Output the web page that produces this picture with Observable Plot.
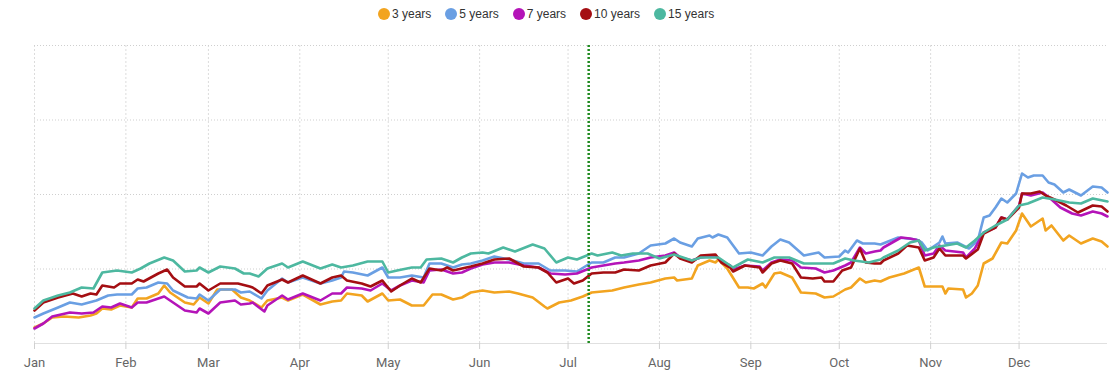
<!DOCTYPE html>
<html>
<head>
<meta charset="utf-8">
<script src="https://cdn.jsdelivr.net/npm/d3@7"></script>
<script src="https://cdn.jsdelivr.net/npm/@observablehq/plot@0.6"></script>
<style>
  html, body { margin: 0; padding: 0; background: #fff; }
  #wrap { position: relative; width: 1116px; height: 379px; overflow: hidden; }
  #legend { position: absolute; left: 378px; top: 7px; display: flex; gap: 14px; font: 12px "Liberation Sans", Arial, sans-serif; color: #333; }
  .item { display: flex; align-items: center; gap: 2px; height: 14px; }
  .dot { width: 12px; height: 12px; border-radius: 50%; display: inline-block; }
  #chart { position: absolute; left: 0; top: 28px; }
</style>
</head>
<body>
<div id="wrap">
  <div id="legend"></div>
  <div id="chart"></div>
</div>
<script>
// Series names and colours
const seriesNames = ["3 years", "5 years", "7 years", "10 years", "15 years"];
const seriesColors = ["#f2a420", "#6a9fe3", "#b414b8", "#a40e12", "#4db8a0"];
const monthLabels = ["Jan","Feb","Mar","Apr","May","Jun","Jul","Aug","Sep","Oct","Nov","Dec"];
const year = 2023;
const markerDay = 188; // dotted green vertical line (day of year, 0 = Jan 1)

// [day of year (0 = Jan 1), value] pairs
const y3 = [[0,16],[3,20],[6,26],[10,27],[15,26],[19,28],[21,30],[23,35],[26,34],[29,38],[33,36],[35,45],[38,45],[42,50],[44,58],[46,51],[51,41],[54,39],[56,46],[59,40],[62,54],[67,54],[70,46],[73,43],[77,36],[79,43],[84,46],[86,43],[91,49],[97,39],[101,42],[104,43],[106,50],[111,48],[113,42],[118,50],[120,43],[124,44],[128,38],[132,38],[135,49],[138,49],[142,44],[145,46],[148,51],[152,53],[156,51],[161,52],[164,50],[169,46],[173,37],[174,35],[178,41],[182,43],[186,47],[189,51],[196,53],[200,56],[205,59],[209,61],[214,65],[217,66],[218,63],[223,65],[225,78],[229,83],[231,81],[232,84],[235,75],[239,56],[242,56],[244,55],[247,60],[248,56],[251,70],[253,71],[257,66],[260,51],[265,50],[268,46],[271,47],[275,54],[277,56],[280,65],[282,61],[285,63],[287,62],[290,66],[295,70],[300,76],[302,57],[308,57],[309,50],[310,55],[315,54],[316,46],[318,50],[320,58],[322,80],[325,85],[328,101],[330,100],[333,113],[335,130],[338,117],[342,125],[343,113],[345,118],[349,103],[351,108],[355,100],[359,105],[362,102],[364,97]];
const y5 = [[0,26],[3,30],[8,36],[12,41],[16,39],[21,43],[25,48],[28,49],[33,49],[35,55],[38,56],[42,61],[45,60],[47,53],[52,46],[55,45],[56,49],[59,43],[63,54],[68,54],[70,51],[73,52],[77,45],[79,53],[84,65],[86,61],[91,66],[97,60],[101,63],[104,66],[105,72],[108,71],[113,68],[118,76],[120,66],[124,66],[128,68],[132,66],[134,80],[138,80],[142,76],[145,79],[148,80],[152,83],[156,87],[161,84],[166,80],[171,80],[175,73],[180,73],[184,72],[189,81],[193,81],[197,86],[200,86],[205,90],[209,98],[214,100],[217,105],[219,101],[223,97],[225,105],[229,108],[230,106],[232,109],[235,106],[239,90],[243,91],[247,88],[250,97],[253,104],[256,101],[261,88],[266,91],[268,86],[273,87],[275,93],[276,91],[279,103],[281,100],[285,100],[287,99],[293,106],[299,104],[301,101],[303,93],[307,101],[308,107],[309,100],[313,101],[317,95],[320,103],[322,126],[324,128],[326,136],[328,145],[330,141],[333,150],[335,170],[337,166],[339,168],[342,168],[344,161],[346,159],[349,151],[351,154],[355,148],[359,157],[362,156],[364,151]];
const y7 = [[0,15],[3,20],[6,27],[12,31],[16,30],[20,31],[23,37],[26,36],[29,40],[33,36],[35,41],[38,41],[42,45],[44,47],[46,43],[51,33],[55,31],[56,35],[59,30],[63,41],[68,43],[70,39],[73,40],[74,41],[78,32],[79,38],[84,48],[86,44],[91,50],[97,43],[101,50],[104,50],[106,56],[111,55],[114,53],[118,60],[121,53],[124,58],[128,63],[132,61],[134,73],[138,74],[142,70],[145,71],[148,75],[152,79],[156,81],[161,81],[166,78],[171,76],[175,70],[180,69],[184,70],[189,76],[193,78],[197,80],[200,81],[205,83],[209,86],[214,88],[217,91],[219,86],[223,83],[226,86],[231,88],[233,82],[236,78],[237,74],[241,78],[246,77],[247,73],[250,81],[253,84],[257,83],[260,76],[265,75],[268,71],[271,73],[275,78],[277,81],[280,96],[282,90],[285,92],[287,93],[288,96],[294,106],[297,105],[300,103],[302,88],[305,90],[307,98],[309,93],[315,91],[316,86],[319,95],[322,111],[326,116],[328,126],[330,124],[334,138],[335,150],[338,148],[342,151],[345,144],[348,136],[352,130],[355,128],[359,132],[362,130],[364,127]];
const y10 = [[0,33],[3,41],[8,46],[13,50],[16,47],[19,50],[21,49],[23,58],[27,56],[29,60],[33,60],[35,64],[37,62],[42,70],[45,74],[47,66],[51,57],[55,57],[56,60],[59,53],[63,60],[69,60],[73,57],[74,56],[77,50],[79,58],[84,64],[86,61],[91,68],[97,60],[101,66],[104,68],[106,63],[111,60],[114,57],[118,63],[121,52],[124,58],[128,65],[131,61],[134,75],[138,73],[140,76],[142,73],[145,75],[148,77],[152,80],[156,84],[161,85],[166,77],[171,76],[174,71],[177,61],[181,65],[183,60],[186,63],[189,70],[193,71],[197,71],[200,74],[205,73],[209,78],[214,81],[217,90],[219,85],[223,81],[226,88],[231,89],[233,81],[236,76],[237,72],[241,78],[246,76],[247,71],[250,80],[253,83],[257,80],[260,66],[264,65],[267,66],[268,62],[271,62],[274,73],[277,76],[280,95],[282,81],[285,80],[287,80],[288,83],[293,90],[296,98],[300,96],[302,83],[305,86],[307,95],[309,88],[315,88],[316,85],[320,94],[322,110],[326,116],[328,126],[330,124],[334,136],[335,150],[338,150],[341,152],[343,148],[346,144],[350,138],[354,131],[359,138],[362,137],[364,132]];
const y15 = [[0,35],[3,43],[8,48],[12,51],[16,56],[20,55],[23,71],[28,73],[33,71],[36,75],[39,80],[44,86],[47,83],[51,72],[55,73],[56,76],[59,71],[63,77],[68,75],[71,70],[73,70],[76,67],[79,75],[84,80],[86,76],[91,82],[97,75],[101,79],[104,76],[108,78],[113,82],[118,82],[120,71],[123,73],[128,76],[131,76],[133,84],[138,85],[142,81],[145,86],[148,90],[152,91],[154,90],[159,96],[163,92],[169,99],[173,95],[177,81],[181,86],[184,84],[189,90],[191,88],[196,91],[199,88],[203,90],[208,90],[212,85],[217,89],[223,83],[226,86],[232,86],[235,80],[237,76],[242,84],[247,81],[251,86],[256,86],[261,80],[267,80],[271,80],[275,85],[278,83],[283,81],[287,84],[288,86],[293,93],[297,101],[300,103],[302,93],[305,96],[309,98],[313,100],[316,96],[319,103],[322,111],[326,118],[330,124],[334,138],[337,140],[342,146],[346,144],[351,141],[355,140],[359,145],[364,142]];

const seriesPairs = [y3, y5, y7, y10, y15];
const gridStep = 74.5;
const yMax = 298;

const day = d => new Date(Date.UTC(year, 0, 1 + d));
const data = seriesPairs.flatMap((pairs, i) =>
  pairs.map(([d, v]) => ({date: day(d), value: v, series: seriesNames[i]})));
const monthTicks = d3.range(12).map(m => new Date(Date.UTC(year, m, 1)));
const gridY = d3.range(1, 5).map(i => i * gridStep);

// legend
const legend = document.getElementById("legend");
seriesNames.forEach((n, i) => {
  const it = document.createElement("div");
  it.className = "item";
  it.innerHTML = `<span class="dot" style="background:${seriesColors[i]}"></span><span>${n}</span>`;
  legend.appendChild(it);
});

const chart = Plot.plot({
  width: 1116,
  height: 351,
  marginLeft: 34,
  marginRight: 9,
  marginTop: 17,
  marginBottom: 36,
  style: {fontFamily: "Roboto, sans-serif", background: "#fff"},
  x: {type: "utc", domain: [day(0), day(364)]},
  y: {domain: [0, yMax], axis: null},
  color: {domain: seriesNames, range: seriesColors},
  marks: [
    Plot.ruleX(monthTicks, {stroke: "#dcdcdc", strokeDasharray: "2,2"}),
    Plot.ruleY(gridY, {stroke: "#cfcfcf", strokeDasharray: "1,2"}),
    Plot.ruleY([0], {stroke: "#e0e0e0"}),
    Plot.axisX({ticks: monthTicks, tickFormat: (d, i) => monthLabels[d.getUTCMonth()], tickSize: 6, tickPadding: 8, fontSize: 13, stroke: "#d0d0d0", fill: "#666", label: null}),
    Plot.lineY(data, {x: "date", y: "value", z: "series", stroke: "series", strokeWidth: 2.6, strokeLinejoin: "round", strokeLinecap: "round"}),
    Plot.ruleX([day(markerDay)], {stroke: "#1f8a1f", strokeWidth: 2.5, strokeDasharray: "2,2"})
  ]
});
document.getElementById("chart").appendChild(chart);
</script>
</body>
</html>
